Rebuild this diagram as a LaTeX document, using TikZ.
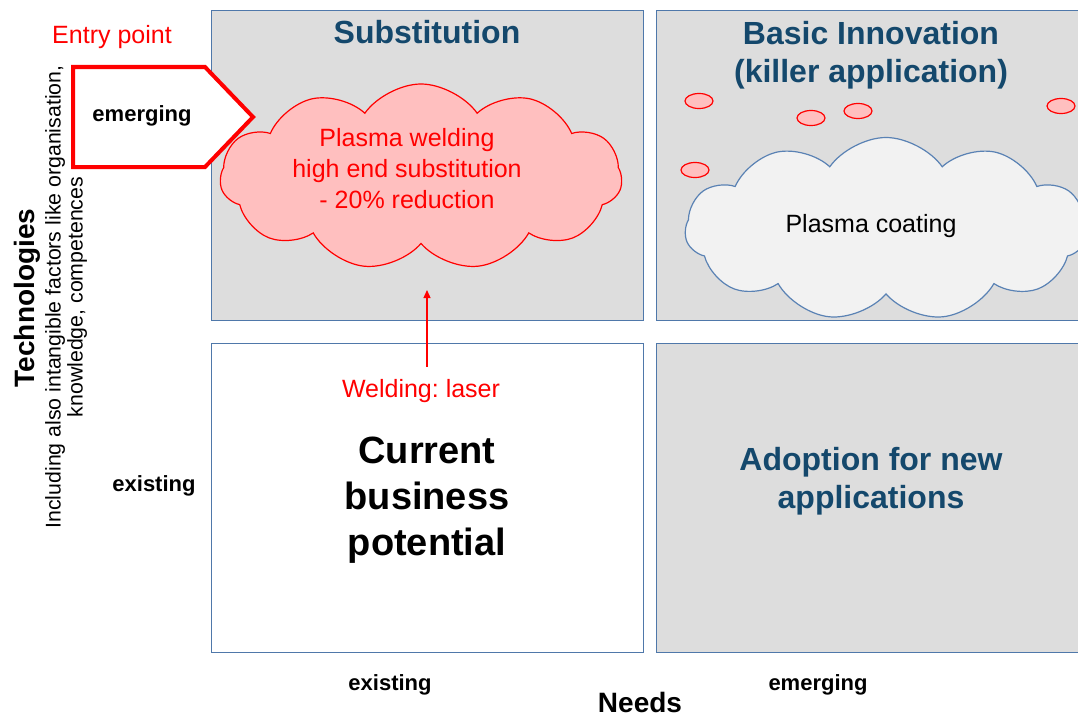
\documentclass[tikz,border=0pt]{standalone}
\usepackage{fontspec}
\setmainfont{Liberation Sans}
\usetikzlibrary{shapes.symbols,arrows.meta}
\definecolor{quadline}{RGB}{79,120,170}
\definecolor{quadgray}{RGB}{221,221,221}
\definecolor{titleblue}{RGB}{20,72,108}
\definecolor{cloudred}{RGB}{255,191,191}
\definecolor{cloudgray}{RGB}{242,242,242}
\definecolor{cloudline}{RGB}{90,130,180}
\newcommand{\fsz}[2]{\fontsize{#1pt}{#2pt}\selectfont}
\frenchspacing
\begin{document}
\begin{tikzpicture}[x=1pt,y=-1pt,
  quad/.style={draw=quadline,line width=1.3pt,anchor=north west,inner sep=0pt},
  heading/.style={font=\bfseries\fsz{32}{38},text=titleblue,align=center},
  axis/.style={font=\bfseries\fsz{22}{26}},
  redtext/.style={text=red,font=\fsz{25}{31},align=center},
  puffy/.style={cloud,cloud puffs=11,cloud puff arc=110,line width=1.2pt,inner sep=0pt}]
\path[use as bounding box,clip] (0,0) rectangle (1078,717);
% the four quadrants
\node[quad,fill=quadgray,minimum width=432pt,minimum height=310pt] (subst) at (211,10) {};
\node[quad,fill=quadgray,minimum width=440pt,minimum height=310pt] (basic) at (656,10) {};
\node[quad,fill=white,minimum width=432pt,minimum height=309pt] (current) at (211,343) {};
\node[quad,fill=quadgray,minimum width=440pt,minimum height=309pt] (adopt) at (656,343) {};
\node[heading] (substtitle) at (427,32) {Substitution};
\node[heading] (basictitle) at (871,55) {Basic Innovation\\(killer application)};
\node[heading] (adopttitle) at (871,481) {Adoption for new\\applications};
\node[font=\bfseries\fsz{38}{46},align=center] (currenttitle) at (427,500) {Current\\business\\potential};
% clouds
\node[puffy,draw=red,fill=cloudred,minimum width=402pt,minimum height=186pt] (redcloud) at (421,177) {};
\node[redtext] (redlabel) at (407,169) {Plasma welding\\high end substitution\\- 20\% reduction};
\node[puffy,draw=cloudline,fill=cloudgray,minimum width=402pt,minimum height=183pt] (bluecloud) at (886,229) {};
\node[font=\fsz{25}{30}] (coatlabel) at (871,226) {Plasma coating};
\foreach \ex/\ey in {699/101,811/118,858/111,1061/106,695/170}
  \draw[red,fill=cloudred,line width=1.2pt] (\ex,\ey) ellipse [x radius=14pt,y radius=7.5pt];
% entry point
\draw[red,line width=4pt,fill=white] (73,67) -- (205,67) -- (253,117) -- (205,167) -- (73,167) -- cycle;
\node[axis] (techemerg) at (142,116) {emerging};
\node[text=red,font=\fsz{25}{30}] (entry) at (112,37) {Entry point};
% laser welding
\node[redtext] (weld) at (421,391) {Welding: laser};
\coordinate (tip) at (427,290);
\draw[red,line width=1.3pt,-{Triangle[length=8pt,width=7pt]}] ([yshift=9pt]weld.north -| tip) -- (tip);
% axes
\node[axis] (techexist) at (154,486) {existing};
\node[axis] (needexist) at (390,685) {existing};
\node[axis] (needemerg) at (818,685) {emerging};
\node[font=\bfseries\fsz{28}{32}] (needs) at (640,702) {Needs};
\node[font=\bfseries\fsz{28}{32},rotate=90] (tech) at (27,298) {Technologies};
\node[font=\fsz{21.3}{22},rotate=90,align=center] (techsub) at (66,297) {Including also intangible factors like organisation,\\knowledge, competences};
\end{tikzpicture}
\end{document}
